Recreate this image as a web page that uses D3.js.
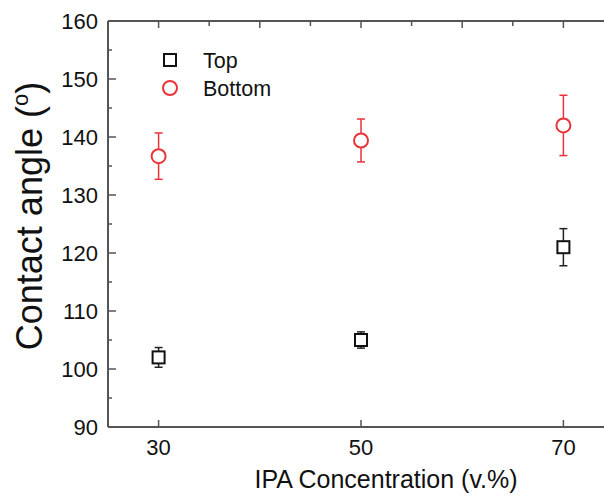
<!DOCTYPE html>
<html>
<head>
    <title>Contact angle vs IPA concentration</title>
    <script src="https://d3js.org/d3.v7.min.js"></script>
    <style>
        body { margin: 0; background: #fff; }
        svg { display: block; }
        text { font-family: "Liberation Sans", Arial, sans-serif; fill: #111; }
    </style>
</head>
<body>
<div id="chart"></div>
<script>
    // Values
    var concentrations = [30, 50, 70];
    var topAngle = [102.0, 105.0, 121.0];
    var topErr = [1.7, 1.4, 3.2];
    var bottomAngle = [136.7, 139.4, 142.0];
    var bottomErr = [4.0, 3.7, 5.2];
    var xTicks = [30, 50, 70];
    var yTicks = [90, 100, 110, 120, 130, 140, 150, 160];
    var seriesNames = ['Top', 'Bottom'];

    var width = 604, height = 496;
    var red = '#ea3339';
    var axisColor = '#555';

    var svg = d3.select('#chart').append('svg')
        .attr('width', width)
        .attr('height', height);

    // plot runs past the right edge of the picture
    var x = d3.scaleLinear().domain([25, 75]).range([108, 614]);
    var y = d3.scaleLinear().domain([90, 160]).range([427, 21]);

    // frame lines
    var frame = svg.append('g').attr('stroke', axisColor).attr('stroke-width', 2);
    frame.append('line').attr('x1', x(25)).attr('x2', x(75)).attr('y1', y(90)).attr('y2', y(90));
    frame.append('line').attr('x1', x(25)).attr('x2', x(75)).attr('y1', y(160)).attr('y2', y(160));
    frame.append('line').attr('x1', x(25)).attr('x2', x(25)).attr('y1', y(90)).attr('y2', y(160));

    // left axis ticks (inward)
    var yMinor = d3.range(95, 160, 10);
    svg.append('g').selectAll('line.ymaj').data(yTicks.slice(1, -1)).enter().append('line')
        .attr('x1', x(25)).attr('x2', x(25) + 8)
        .attr('y1', function(d) { return y(d); }).attr('y2', function(d) { return y(d); })
        .attr('stroke', axisColor).attr('stroke-width', 1.5);
    svg.append('g').selectAll('line.ymin').data(yMinor).enter().append('line')
        .attr('x1', x(25)).attr('x2', x(25) + 4)
        .attr('y1', function(d) { return y(d); }).attr('y2', function(d) { return y(d); })
        .attr('stroke', axisColor).attr('stroke-width', 1.5);

    svg.append('g').selectAll('text').data(yTicks).enter().append('text')
        .attr('x', 98).attr('y', function(d) { return y(d) + 8; })
        .attr('text-anchor', 'end')
        .attr('font-size', 22)
        .text(function(d) { return d; });

    // bottom ticks
    svg.append('g').selectAll('line').data(xTicks).enter().append('line')
        .attr('x1', function(d) { return x(d); }).attr('x2', function(d) { return x(d); })
        .attr('y1', y(90)).attr('y2', y(90) - 7)
        .attr('stroke', axisColor).attr('stroke-width', 1.5);
    svg.append('g').selectAll('text').data(xTicks).enter().append('text')
        .attr('x', function(d) { return x(d); }).attr('y', 455)
        .attr('text-anchor', 'middle')
        .attr('font-size', 22)
        .text(function(d) { return d; });

    // top ticks every 5
    var topTicks = d3.range(30, 75, 5);
    svg.append('g').selectAll('line').data(topTicks).enter().append('line')
        .attr('x1', function(d) { return x(d); }).attr('x2', function(d) { return x(d); })
        .attr('y1', y(160)).attr('y2', function(d) { return y(160) + (d % 10 === 0 ? 7 : 5); })
        .attr('stroke', axisColor).attr('stroke-width', 1.5);

    // axis titles
    svg.append('text')
        .attr('x', 386).attr('y', 488)
        .attr('text-anchor', 'middle')
        .attr('font-size', 25)
        .text('IPA Concentration (v.%)');

    var yTitle = svg.append('text')
        .attr('transform', 'translate(42,' + 216 + ') rotate(-90)')
        .attr('text-anchor', 'middle')
        .attr('font-size', 36)
        .text('Contact angle (');
    yTitle.append('tspan').attr('font-size', 22).attr('dy', -14).text('o');
    yTitle.append('tspan').attr('dy', 14).text(')');

    // error bars
    function errorBars(vals, errs, color) {
        var g = svg.append('g').attr('stroke', color).attr('stroke-width', 1.5).attr('fill', 'none');
        concentrations.forEach(function(c, i) {
            var cx = x(c);
            g.append('line').attr('x1', cx).attr('x2', cx)
                .attr('y1', y(vals[i] + errs[i])).attr('y2', y(vals[i] - errs[i]));
            g.append('line').attr('x1', cx - 4).attr('x2', cx + 4)
                .attr('y1', y(vals[i] + errs[i])).attr('y2', y(vals[i] + errs[i]));
            g.append('line').attr('x1', cx - 4).attr('x2', cx + 4)
                .attr('y1', y(vals[i] - errs[i])).attr('y2', y(vals[i] - errs[i]));
        });
    }
    errorBars(topAngle, topErr, '#222');
    errorBars(bottomAngle, bottomErr, red);

    // markers
    svg.append('g').selectAll('rect').data(concentrations).enter().append('rect')
        .attr('x', function(d) { return x(d) - 6; })
        .attr('y', function(d, i) { return y(topAngle[i]) - 6; })
        .attr('width', 12).attr('height', 12)
        .attr('fill', '#fff').attr('stroke', '#111').attr('stroke-width', 2);

    svg.append('g').selectAll('circle').data(concentrations).enter().append('circle')
        .attr('cx', function(d) { return x(d); })
        .attr('cy', function(d, i) { return y(bottomAngle[i]); })
        .attr('r', 7)
        .attr('fill', '#fff').attr('stroke', red).attr('stroke-width', 2);

    // legend
    var legend = svg.append('g');
    legend.append('rect').attr('x', 164).attr('y', 54).attr('width', 12).attr('height', 12)
        .attr('fill', '#fff').attr('stroke', '#111').attr('stroke-width', 2);
    legend.append('circle').attr('cx', 170).attr('cy', 88).attr('r', 7)
        .attr('fill', '#fff').attr('stroke', red).attr('stroke-width', 2);
    legend.selectAll('text').data(seriesNames).enter().append('text')
        .attr('x', 203).attr('y', function(d, i) { return 68 + i * 28; })
        .attr('font-size', 21.5)
        .text(function(d) { return d; });
</script>
</body>
</html>
